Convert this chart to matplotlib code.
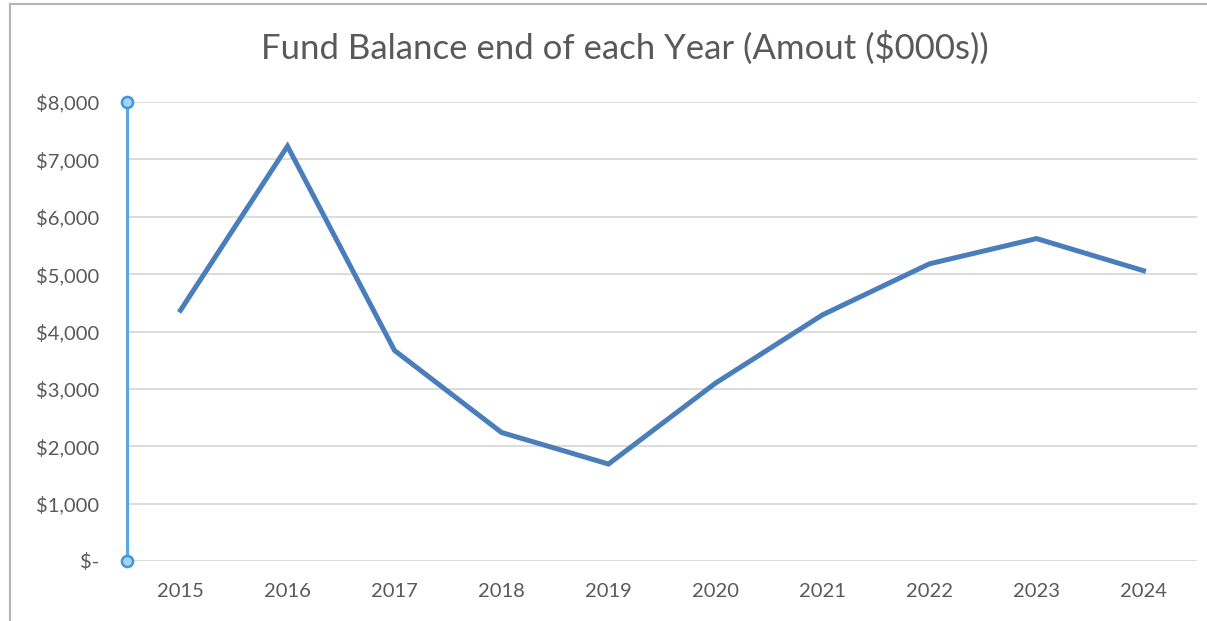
import matplotlib.pyplot as plt
from matplotlib.ticker import FuncFormatter
from matplotlib.lines import Line2D

years = ['2015', '2016', '2017', '2018', '2019', '2020', '2021', '2022', '2023', '2024']
balance = [4370, 7230, 3670, 2240, 1690, 3100, 4290, 5180, 5620, 5060]
y_ticks = [0, 1000, 2000, 3000, 4000, 5000, 6000, 7000, 8000]

plt.rcParams['font.family'] = ['Lato', 'DejaVu Sans']
text_grey = '#595959'

fig = plt.figure(figsize=(12.07, 6.21), dpi=100)
ax = fig.add_axes([127 / 1207, 60 / 621, 1070 / 1207, 459 / 621])

x = list(range(len(years)))
ax.plot(x, balance, color='#4a7ebb', linewidth=3.6, solid_joinstyle='miter', zorder=3)

ax.set_xlim(-0.5, len(years) - 0.5)
ax.set_ylim(0, 8000)
ax.set_yticks(y_ticks)
ax.set_xticks(x)
ax.set_xticklabels(years)


def money(v, pos):
    if v == 0:
        return '$-'
    return f'${v:,.0f}'


ax.yaxis.set_major_formatter(FuncFormatter(money))
ax.tick_params(axis='both', length=0, labelsize=14.5, labelcolor=text_grey)
ax.tick_params(axis='y', pad=20)
ax.tick_params(axis='x', pad=16)
ax.grid(axis='y', color='#d9d9d9', linewidth=1.3)
ax.set_axisbelow(True)
for s in ax.spines.values():
    s.set_visible(False)

# selected vertical axis with its handles
ax.plot([-0.5, -0.5], [0, 8000], color='#5aa6e6', linewidth=2.2, clip_on=False, zorder=4)
ax.plot([-0.5, -0.5], [0, 8000], linestyle='none', marker='o', markersize=8,
        markerfacecolor='#a9d1f5', markeredgecolor='#3c96e0', markeredgewidth=1.8,
        clip_on=False, zorder=5)

fig.text(625 / 1207, 1 - 48 / 621, 'Fund Balance end of each Year (Amout ($000s))',
         ha='center', va='center', fontsize=25, color=text_grey)

# outer frame: top and left edges
fig.add_artist(Line2D([10 / 1207, 1], [1 - 4 / 621, 1 - 4 / 621], color='#b4b4b4', linewidth=1.5))
fig.add_artist(Line2D([10 / 1207, 10 / 1207], [0, 1 - 4 / 621], color='#b4b4b4', linewidth=1.5))

plt.savefig('out.png', dpi=100)
